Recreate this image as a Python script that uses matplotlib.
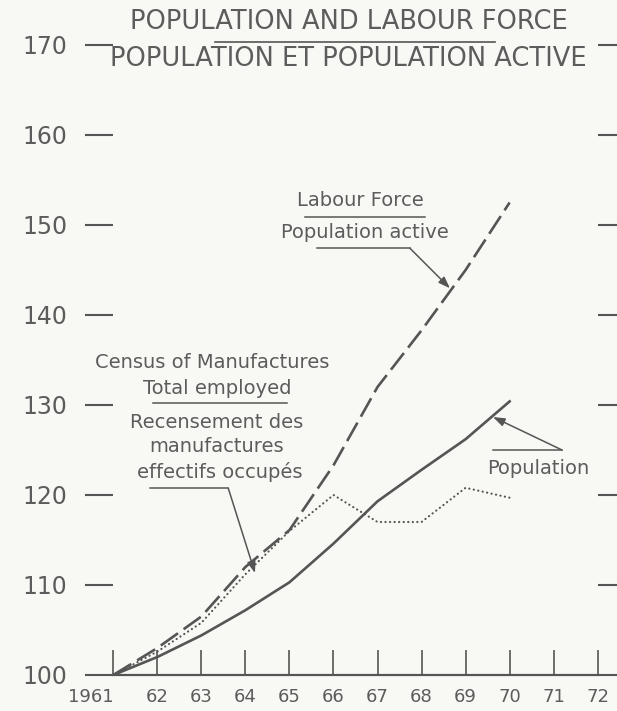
import matplotlib
matplotlib.use("Agg")
import matplotlib.pyplot as plt
from matplotlib.lines import Line2D

# ---- data ----
years = [1961, 1962, 1963, 1964, 1965, 1966, 1967, 1968, 1969, 1970]
population = [100, 102.0, 104.4, 107.2, 110.3, 114.6, 119.3, 122.8, 126.2, 130.4]
labour_force = [100, 103.0, 106.5, 112.0, 116.1, 123.3, 132.0, 138.3, 145.0, 152.5]
census_employed = [100, 102.6, 105.8, 111.2, 116.0, 120.0, 117.0, 117.0, 120.8, 119.7]
x_ticks = list(range(1961, 1973))
x_tick_labels = ["1961", "62", "63", "64", "65", "66", "67", "68", "69", "70", "71", "72"]
y_ticks = [100, 110, 120, 130, 140, 150, 160, 170]
y_tick_labels = ["100", "110", "120", "130", "140", "150", "160", "170"]
title_en = "POPULATION AND LABOUR FORCE"
title_fr = "POPULATION ET POPULATION ACTIVE"

W, H = 617, 711
BG = "#f8f8f4"
INK = "#5c5c5c"
LINE = "#555555"

fig = plt.figure(figsize=(W / 100, H / 100), dpi=100, facecolor=BG)
# axes: 1961 at x=113.3px, 1972 at 597.7px ; 100 at y=675px, 170 at y=45px
L, R, B, T = 113.3, 597.7, 675.0, 45.0
ax = fig.add_axes([L / W, (H - B) / H, (R - L) / W, (B - T) / H])
ax.set_facecolor("none")
ax.set_xlim(1961, 1972)
ax.set_ylim(100, 170)

for s in ["top", "right", "left"]:
    ax.spines[s].set_visible(False)
ax.spines["bottom"].set_color(LINE)
ax.spines["bottom"].set_linewidth(1.6)

ax.set_xticks(x_ticks)
ax.set_xticklabels(x_tick_labels)
ax.set_yticks(y_ticks)
ax.set_yticklabels(y_tick_labels)
ax.tick_params(axis="x", direction="in", length=18, width=1.2, color=LINE,
               labelsize=13, labelcolor=INK, pad=9)
ax.tick_params(axis="y", direction="out", length=20, width=1.5, color=LINE,
               labelsize=17, labelcolor=INK, pad=13, right=True)
lbls = ax.get_xticklabels()
lbls[0].set_horizontalalignment("right")

# ---- series ----
ax.plot(years, population, color=LINE, lw=1.9, solid_joinstyle="round")
ax.plot(years, labour_force, color=LINE, lw=1.9, linestyle=(0, (8, 2.6)))
ax.plot(years, census_employed, color=LINE, lw=1.6, linestyle=(0, (0.05, 2.0)),
        dash_capstyle="round")

# ---- helpers in pixel coords (top-left origin) ----
def fx(x):
    return x / W

def fy(y):
    return (H - y) / H

def ftext(x, y, s, size=14, **kw):
    fig.text(fx(x), fy(y), s, ha="center", va="center", fontsize=size,
             color=INK, **kw)

def fline(xs, ys, lw=1.1):
    fig.add_artist(Line2D([fx(v) for v in xs], [fy(v) for v in ys],
                          color=LINE, lw=lw))

def farrow(x0, y0, x1, y1):
    fig.add_artist(matplotlib.patches.FancyArrowPatch(
        (fx(x0), fy(y0)), (fx(x1), fy(y1)), transform=fig.transFigure,
        arrowstyle="-|>,head_length=7,head_width=2.5", color=LINE, lw=1.1,
        mutation_scale=1, shrinkA=0, shrinkB=0))

# title
ftext(348.5, 22, title_en, size=18.5)
fline([215, 495], [42, 42], lw=1.2)
ftext(348, 59, title_fr, size=18.5)

# Labour force annotation
ftext(360, 200, "Labour Force")
fline([305, 425], [216.7, 216.7])
ftext(365, 233, "Population active")
fline([316.7, 410], [248.3, 248.3])
farrow(410, 248.3, 450, 288.3)

# Census annotation
ftext(212, 363, "Census of Manufactures")
ftext(217, 388, "Total employed")
fline([153, 287], [403.3, 403.3])
ftext(217, 423, "Recensement des")
ftext(217, 447, "manufactures")
ftext(220, 472, "effectifs occupés")
fline([150, 228.3], [488.3, 488.3])
farrow(228.3, 488.3, 255, 573)

# Population annotation
fline([493, 562], [450, 450])
farrow(562, 450, 493, 417)
ftext(538, 468, "Population")

fig.savefig("out.png", dpi=100, facecolor=BG)
